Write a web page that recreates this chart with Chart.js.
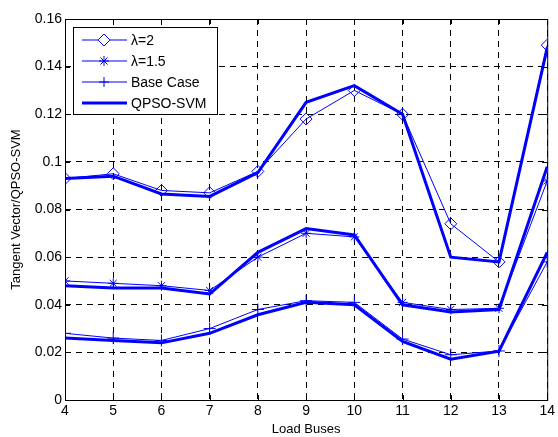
<!DOCTYPE html>
<html>
<head>
<meta charset="utf-8">
<script src="https://cdn.jsdelivr.net/npm/chart.js@4"></script>
<style>
  html, body { margin: 0; padding: 0; background: #fff; }
  #wrap { width: 558px; height: 437px; }
</style>
</head>
<body>
<div id="wrap"><canvas id="c" width="558" height="437"></canvas></div>
<script>
const buses = [4, 5, 6, 7, 8, 9, 10, 11, 12, 13, 14];

// thin lines with markers
const lambda2  = [0.093, 0.095, 0.088, 0.087, 0.096, 0.118, 0.130, 0.120, 0.074, 0.058, 0.149];
const lambda15 = [0.050, 0.049, 0.048, 0.046, 0.060, 0.070, 0.0685, 0.041, 0.038, 0.0385, 0.092];
const baseCase = [0.028, 0.026, 0.025, 0.030, 0.038, 0.0417, 0.041, 0.0256, 0.019, 0.0206, 0.058];

// thick QPSO-SVM lines
const qpsoTop = [0.093, 0.094, 0.0865, 0.0855, 0.0955, 0.125, 0.132, 0.120, 0.060, 0.058, 0.148];
const qpsoMid = [0.048, 0.047, 0.047, 0.0445, 0.062, 0.072, 0.0693, 0.040, 0.037, 0.038, 0.098];
const qpsoLow = [0.026, 0.025, 0.024, 0.028, 0.0358, 0.041, 0.040, 0.0246, 0.0171, 0.0205, 0.062];

const yTicks = [0, 0.02, 0.04, 0.06, 0.08, 0.1, 0.12, 0.14, 0.16];

const legendItems = [
    { label: "λ=2", style: "rectRot" },
    { label: "λ=1.5", style: "star" },
    { label: "Base Case", style: "cross" },
    { label: "QPSO-SVM", style: null }
];

const blue = "#0000ff";
const font = "'Liberation Sans', Arial, sans-serif";

function thin(label, data, style, r) {
    return {
        label, data: data.map((v, i) => ({ x: buses[i], y: v })),
        borderColor: blue, borderWidth: 1,
        pointStyle: style, pointRadius: r, pointBorderColor: blue,
        pointBackgroundColor: "rgba(0,0,0,0)", pointBorderWidth: 1
    };
}
function thick(data) {
    return {
        label: "QPSO-SVM", data: data.map((v, i) => ({ x: buses[i], y: v })),
        borderColor: blue, borderWidth: 3, pointRadius: 0
    };
}

// box, inward ticks and legend, MATLAB style
const matlabBox = {
    id: "matlabBox",
    afterDraw(chart) {
        const { ctx, chartArea: a, scales } = chart;
        ctx.save();
        ctx.strokeStyle = "#000";
        ctx.lineWidth = 1;
        ctx.strokeRect(a.left + 0.5, a.top + 0.5, a.right - a.left, a.bottom - a.top);
        ctx.beginPath();
        buses.forEach(b => {
            const x = Math.round(scales.x.getPixelForValue(b)) + 0.5;
            ctx.moveTo(x, a.bottom); ctx.lineTo(x, a.bottom - 5);
            ctx.moveTo(x, a.top); ctx.lineTo(x, a.top + 5);
        });
        yTicks.forEach(t => {
            const y = Math.round(scales.y.getPixelForValue(t)) + 0.5;
            ctx.moveTo(a.left, y); ctx.lineTo(a.left + 5, y);
            ctx.moveTo(a.right, y); ctx.lineTo(a.right - 5, y);
        });
        ctx.stroke();

        // legend
        const lx = a.left + 8, ly = a.top + 8, lw = 144, lh = 87;
        ctx.fillStyle = "#fff";
        ctx.fillRect(lx, ly, lw, lh);
        ctx.strokeStyle = "#000";
        ctx.strokeRect(lx + 0.5, ly + 0.5, lw, lh);
        ctx.font = "14px " + font;
        ctx.textBaseline = "middle";
        legendItems.forEach((it, i) => {
            const y = ly + 13 + i * 21;
            ctx.strokeStyle = blue;
            ctx.lineWidth = it.style ? 1 : 3;
            ctx.beginPath();
            ctx.moveTo(lx + 9, y); ctx.lineTo(lx + 54, y);
            ctx.stroke();
            if (it.style) {
                ctx.lineWidth = 1;
                Chart.helpers.drawPoint(ctx, {
                    pointStyle: it.style, radius: it.style === "rectRot" ? 6 : 5,
                    borderWidth: 1, rotation: 0
                }, lx + 31, y);
            }
            ctx.fillStyle = "#000";
            ctx.fillText(it.label, lx + 58, y + 1);
        });
        ctx.restore();
    }
};

new Chart(document.getElementById("c"), {
    type: "line",
    data: {
        datasets: [
            thin("λ=2", lambda2, "rectRot", 6),
            thin("λ=1.5", lambda15, "star", 5),
            thin("Base Case", baseCase, "cross", 6),
            thick(qpsoTop),
            thick(qpsoMid),
            thick(qpsoLow)
        ]
    },
    options: {
        responsive: false,
        animation: false,
        layout: { padding: { top: 19, right: 8, left: 0, bottom: 0 } },
        plugins: { legend: { display: false }, tooltip: { enabled: false } },
        elements: { line: { tension: 0 } },
        scales: {
            x: {
                type: "linear", min: 4, max: 14,
                afterBuildTicks: s => { s.ticks = buses.map(v => ({ value: v })); },
                afterFit: s => { s.height = 37; },
                grid: { color: "#000", lineWidth: 1, drawTicks: false },
                border: { display: false, dash: [6, 5] },
                ticks: { color: "#000", font: { family: font, size: 14 }, padding: 3, maxRotation: 0 },
                title: { display: true, text: "Load Buses", color: "#000", font: { family: font, size: 13 }, padding: { top: 0, bottom: 0 } }
            },
            y: {
                min: 0, max: 0.16,
                afterBuildTicks: s => { s.ticks = yTicks.map(v => ({ value: v })); },
                afterFit: s => { s.width = 65; },
                grid: { color: "#000", lineWidth: 1, drawTicks: false },
                border: { display: false, dash: [6, 5] },
                ticks: { color: "#000", font: { family: font, size: 14 }, padding: 3, callback: v => String(+v.toFixed(2)) },
                title: { display: true, text: "Tangent Vector/QPSO-SVM", color: "#000", font: { family: font, size: 13 }, padding: { top: 9, bottom: 0 } }
            }
        }
    },
    plugins: [matlabBox]
});
</script>
</body>
</html>
